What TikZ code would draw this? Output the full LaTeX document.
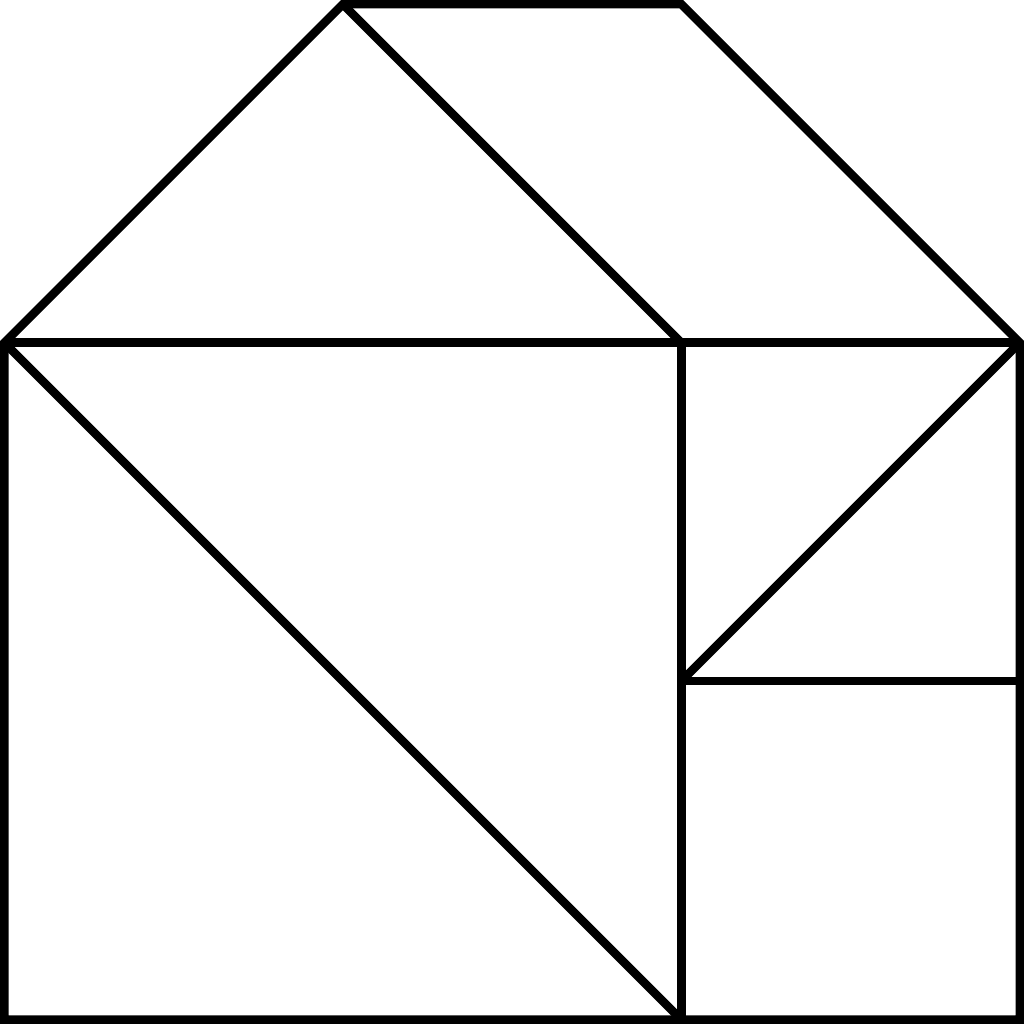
\documentclass[tikz,border=0pt]{standalone}
\usepackage{tikz}

\begin{document}
\begin{tikzpicture}[x=3cm,y=3cm,line width=2.14pt,piece/.style={draw=black}]
                    \useasboundingbox (-0.0126,-0.0126) rectangle (3.0126,3.0126);
                    \coordinate (bl) at (0,0);
                    \coordinate (bm) at (2,0);
                    \coordinate (br) at (3,0);
                    \coordinate (ml) at (0,2);
                    \coordinate (mm) at (2,2);
                    \coordinate (mr) at (3,2);
                    \coordinate (sq) at (2,1);
                    \coordinate (sr) at (3,1);
                    \coordinate (tl) at (1,3);
                    \coordinate (tr) at (2,3);
                    \draw[piece] (bl) -- (br) -- (mr) -- (tr) -- (tl) -- (ml) -- cycle;
                    \draw[piece] (ml) -- (mr);
                    \draw[piece] (tl) -- (mm);
                    \draw[piece] (mm) -- (bm);
                    \draw[piece] (ml) -- (bm);
                    \draw[piece] (mr) -- (sq);
                    \draw[piece] (sq) -- (sr);
                \end{tikzpicture}
\end{document}
